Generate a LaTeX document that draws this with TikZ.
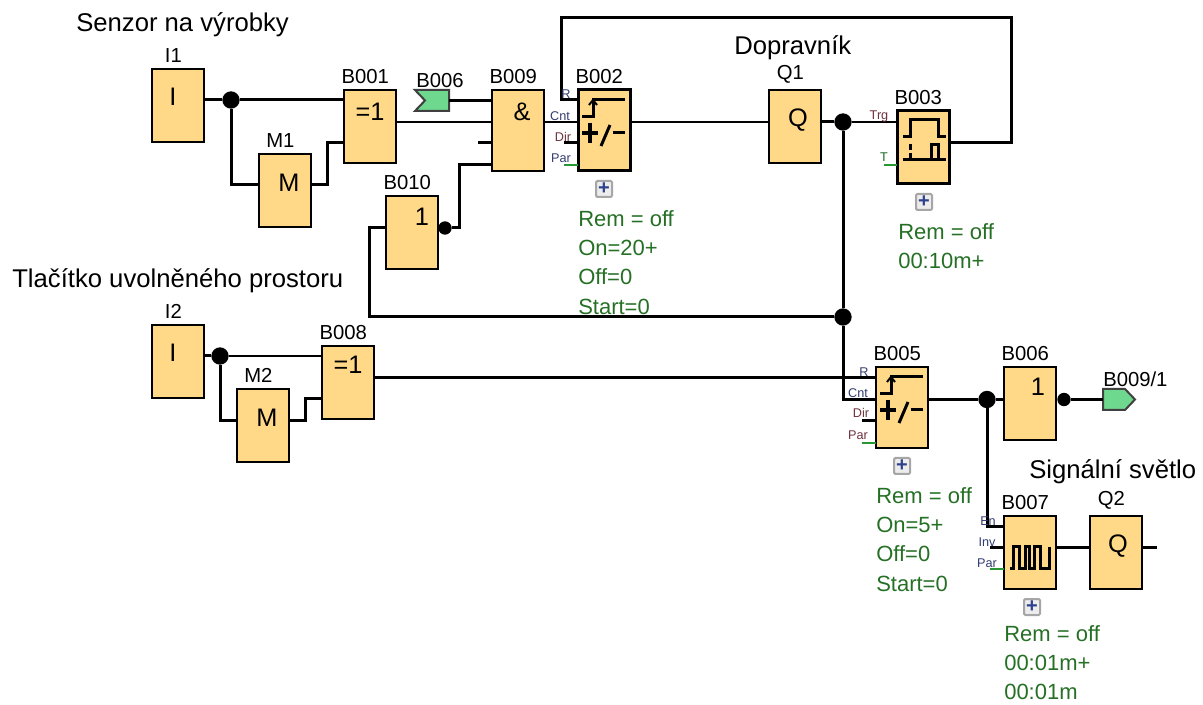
\documentclass[tikz,border=0pt]{standalone}
\usepackage{fontspec}
\setmainfont{Liberation Sans}
\usetikzlibrary{positioning,calc}
\definecolor{blockfill}{RGB}{255,217,136}
\definecolor{flagfill}{RGB}{111,216,143}
\definecolor{remgreen}{RGB}{38,112,38}
\definecolor{pingreen}{RGB}{40,150,50}
\definecolor{pinblue}{RGB}{50,60,110}
\definecolor{pinred}{RGB}{110,50,60}
\definecolor{btnblue}{RGB}{45,65,140}
\tikzset{
  blk/.style={draw=black, line width=1.8pt, fill=blockfill, anchor=north west, inner sep=0pt, outer sep=0pt, minimum width=39pt, minimum height=54.75pt},
  blktall/.style={blk, minimum height=60.75pt},
  blkfn/.style={blk, line width=2.25pt},
  wire/.style={line width=2.25pt, line join=miter},
  thinwire/.style={line width=1.5pt},
  pingr/.style={line width=1.5pt, draw=pingreen},
  jdot/.style={circle, fill=black, inner sep=0pt, minimum size=13pt},
  jdotsm/.style={circle, fill=black, inner sep=0pt, minimum size=10pt},
  lbl/.style={anchor=south, xshift=-3.5pt, inner sep=0pt, yshift=4.5pt, font=\fontsize{15.2}{15.2}\selectfont},
  sym/.style={inner sep=0pt, font=\fontsize{19}{19}\selectfont},
  title/.style={anchor=base west, inner sep=0pt, font=\fontsize{19.25}{19.25}\selectfont},
  rem/.style={anchor=north west, align=left, inner sep=0pt, text=remgreen, font=\fontsize{16.5}{22}\selectfont},
  pin/.style={inner sep=0pt, text=pinblue, font=\fontsize{9.5}{9.5}\selectfont},
  btn/.style={draw=gray!70, fill=gray!15, rounded corners=1pt, line width=1.5pt, minimum size=12pt, inner sep=0pt, text=btnblue, font=\bfseries\fontsize{15}{15}\selectfont},
  flag/.style={draw=black!75, fill=flagfill, line width=1.5pt},
  cntsym/.pic={
    \draw[line width=2.25pt] (4,26.7) -- (15,26.7) -- (15,10) -- (47,10);
    \draw[line width=1.5pt] (11,15) -- (15,10) -- (19,15);
    \draw[line width=3pt] (4,43) -- (20,43) (12,33) -- (12,53);
    \draw[line width=2.25pt] (23,56) -- (32,35);
    \draw[line width=2.25pt] (35,43) -- (47,43);
  }
}

\begin{document}
\begin{tikzpicture}[x=0.75pt, y=-0.75pt]
  \useasboundingbox (0,0) rectangle (1203,705);

  % titles
  \node[title] (tSenzor) at (76,32) {Senzor na výrobky};
  \node[title] (tDopravnik) at (734,55) {Dopravník};
  \node[title] (tTlacitko) at (12,288) {Tlačítko uvolněného prostoru};
  \node[title] (tSvetlo) at (1029,479) {Signální světlo};

  % blocks
  \node[blk] (bI1) at (152,69) {};
  \node[blk] (bM1) at (259,154) {};
  \node[blk] (bB001) at (344,90) {};
  \node[blktall] (bB009) at (492,90) {};
  \node[blktall, blkfn, minimum height=60.75pt] (bB002) at (578,90) {};
  \node[blk] (bQ1) at (769,90) {};
  \node[blkfn] (bB003) at (897,111) {};
  \node[blk] (bB010) at (386,196) {};
  \node[blk] (bI2) at (152,325) {};
  \node[blk] (bM2) at (237,389) {};
  \node[blk] (bB008) at (322,346) {};
  \node[blktall] (bB005) at (876,367) {};
  \node[blk] (bB006) at (1004,367) {};
  \node[blk] (bB007) at (1004,516) {};
  \node[blk] (bQ2) at (1090,516) {};

  % block names
  \node[lbl] (lI1) at (bI1.north) {I1};
  \node[lbl] (lM1) at (bM1.north) {M1};
  \node[lbl] (lB001) at (bB001.north) {B001};
  \node[lbl] (lB009) at (bB009.north) {B009};
  \node[lbl] (lB002) at (bB002.north) {B002};
  \node[lbl] (lQ1) at (bQ1.north) {Q1};
  \node[lbl] (lB003) at (bB003.north) {B003};
  \node[lbl] (lB010) at (bB010.north) {B010};
  \node[lbl] (lI2) at (bI2.north) {I2};
  \node[lbl] (lM2) at (bM2.north) {M2};
  \node[lbl] (lB008) at (bB008.north) {B008};
  \node[lbl] (lB005) at (bB005.north) {B005};
  \node[lbl] (lB006) at (bB006.north) {B006};
  \node[lbl] (lB007) at (bB007.north) {B007};
  \node[lbl] (lQ2) at (bQ2.north) {Q2};

  % block symbols
  \node[sym] (sI1) at (173,97) {I};
  \node[sym] (sM1) at (289,183) {M};
  \node[sym] (sB001) at (370,112) {=1};
  \node[sym] (sB009) at (522,112) {\&};
  \node[sym] (sQ1) at (798,120) {Q};
  \node[sym] (sB010) at (422,217) {1};
  \node[sym] (sI2) at (173,353) {I};
  \node[sym] (sM2) at (267,418) {M};
  \node[sym] (sB008) at (348,365) {=1};
  \node[sym] (sB006) at (1038,387) {1};
  \node[sym] (sQ2) at (1118,546) {Q};
  \pic at (bB002.north west) {cntsym};
  \pic at (bB005.north west) {cntsym};
  \draw[line width=2.25pt] (902.7,136.7) -- (910.7,136.7) -- (910.7,120) -- (938.3,120) -- (938.3,136.7) -- (946,136.7);
  \draw[line width=2.25pt] (902.7,160) -- (946,160) (931.7,160) -- (931.7,145) -- (938.3,145) -- (938.3,160);
  \draw[line width=2.25pt] (910.7,144) -- (910.7,150) (910.7,153) -- (910.7,160);
  \draw[line width=2.25pt] (1010,568) -- (1013,568) -- (1013,547) -- (1019,547) -- (1019,568) -- (1025,568) -- (1025,547) -- (1029,547) -- (1029,568) -- (1034,568) -- (1034,547) -- (1040,547) -- (1040,568) -- (1049,568) -- (1049,547) (1049,568) -- (1051,568);

  % flags
  \draw[flag] (415,90) -- (449,90) -- (449,111) -- (415,111) -- (425,100.5) -- cycle;
  \coordinate (fB006) at (449,100.5);
  \node[lbl, xshift=3.5pt] (lfB006) at (440,94) {B006};
  \draw[flag] (1103,389) -- (1125,389) -- (1135,399.5) -- (1125,410) -- (1103,410) -- cycle;
  \coordinate (fB009) at (1103,399.5);
  \node[lbl, anchor=south west, xshift=3.5pt] (lfB009) at (1103,393) {B009/1};

  % junctions
  \node[jdot] (dI1) at (231,100) {};
  \node[jdot] (dI2) at (220,356) {};
  \node[jdot] (dQ1) at (843,122) {};
  \node[jdot] (dBack) at (843,317) {};
  \node[jdot] (dB005) at (987,399.5) {};
  \node[jdotsm] (dB010) at (445,228) {};
  \node[jdotsm] (dB006) at (1064,399.5) {};

  % upper row
  \draw[wire] (dI1 -| bI1.east) -- (dI1) -- (dI1 -| bB001.west);
  \draw[wire] (dI1) |- (bM1.west |- 0,185);
  \draw[wire] (bM1.east |- 0,185) -| (327,143) -- (bB001.west |- 0,143);
  \draw[thinwire] (bB001.east |- 0,122) -- (bB009.west |- 0,122);
  \draw[wire] (fB006) -- (fB006 -| bB009.west);
  \draw[wire] (478,143) -- (bB009.west |- 0,143);
  \draw[wire] (bB010.east |- dB010) -- (dB010) -- (459,228) |- (bB009.west |- 0,165);
  \draw[thinwire] (bB009.east |- 0,122) -- (bB002.west |- 0,122);
  \draw[wire] (bB002.west |- 0,100) -| (561,18) -| (1011,143) -- (bB003.east |- 0,143);
  \draw[wire] (564,143) -- (bB002.west |- 0,143);
  \draw[pingr] (564,165) -- (bB002.west |- 0,165);
  \draw[thinwire] (bB002.east |- 0,122) -- (bQ1.west |- 0,122);
  \draw[wire] (bQ1.east |- dQ1) -- (dQ1);
  \draw[thinwire] (dQ1) -- (dQ1 -| bB003.west);
  \draw[pingr] (884,165) -- (bB003.west |- 0,165);
  \draw[wire] (dQ1) -- (dBack) -- (843,399.5) -- (bB005.west |- 0,399.5);
  \draw[wire] (dBack) -| (369,228) -- (bB010.west |- 0,228);

  % lower row
  \draw[wire] (dI2 -| bI2.east) -- (dI2);
  \draw[thinwire] (dI2) -- (dI2 -| bB008.west);
  \draw[wire] (dI2) |- (bM2.west |- 0,421);
  \draw[wire] (bM2.east |- 0,421) -| (305,399) -- (bB008.west |- 0,399);
  \draw[wire] (bB008.east |- 0,378) -- (bB005.west |- 0,378);
  \draw[wire] (862,421) -- (bB005.west |- 0,421);
  \draw[pingr] (862,443) -- (bB005.west |- 0,443);
  \draw[wire] (bB005.east |- dB005) -- (dB005) -- (dB005 -| bB006.west);
  \draw[wire] (bB006.east |- dB006) -- (dB006) -- (fB009);
  \draw[wire] (dB005) |- (bB007.west |- 0,527);
  \draw[wire] (990,548) -- (bB007.west |- 0,548);
  \draw[pingr] (990,569) -- (bB007.west |- 0,569);
  \draw[wire] (bB007.east |- 0,548) -- (bQ2.west |- 0,548);
  \draw[wire] (bQ2.east |- 0,548) -- (1157,548);

  % pin names
  \node[pin] (pR2) at (566,94) {R};
  \node[pin] (pC2) at (560,116) {Cnt};
  \node[pin, text=pinred] (pD2) at (563,137) {Dir};
  \node[pin] (pP2) at (561,158) {Par};
  \node[pin, text=pinred] (pTrg) at (879,116) {Trg};
  \node[pin, text=pingreen!70!black] (pT) at (884,157) {T};
  \node[pin] (pR5) at (864,372) {R};
  \node[pin] (pC5) at (858,393) {Cnt};
  \node[pin, text=pinred] (pD5) at (861,413) {Dir};
  \node[pin, text=pinred] (pP5) at (858,435) {Par};
  \node[pin] (pEn) at (988,521) {En};
  \node[pin] (pInv) at (987,542) {Inv};
  \node[pin] (pP7) at (987,563) {Par};

  % parameter buttons and texts
  \node[btn] (btnB002) at (604,189) {+};
  \node[btn] (btnB003) at (924,202) {+};
  \node[btn] (btnB005) at (902,466) {+};
  \node[btn] (btnB007) at (1032,607) {+};
  \node[rem] (rB002) at (578,210) {Rem = off\\On=20+\\Off=0\\Start=0};
  \node[rem] (rB003) at (898,223) {Rem = off\\00:10m+};
  \node[rem] (rB005) at (876,487) {Rem = off\\On=5+\\Off=0\\Start=0};
  \node[rem] (rB007) at (1004,625) {Rem = off\\00:01m+\\00:01m};
\end{tikzpicture}
\end{document}
